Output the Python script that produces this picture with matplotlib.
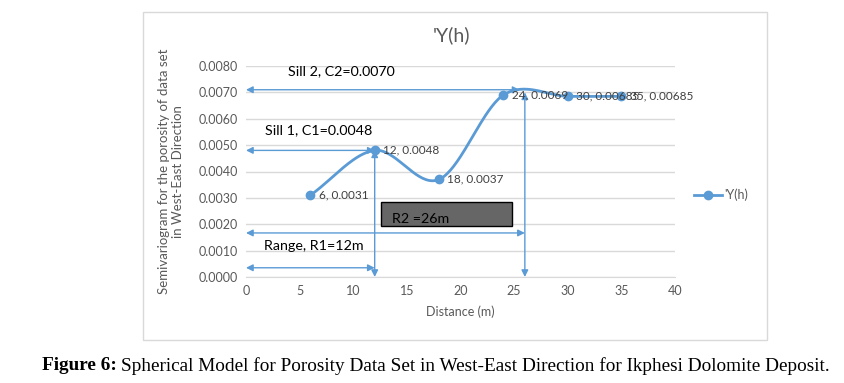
import matplotlib
matplotlib.use('Agg')
import matplotlib.pyplot as plt
import numpy as np
from matplotlib.patches import Rectangle
from matplotlib.transforms import Bbox, TransformedBbox

# data
dist = [6, 12, 18, 24, 30, 35]
gamma = [0.0031, 0.0048, 0.0037, 0.0069, 0.00685, 0.00685]
point_labels = ['6, 0.0031', '12, 0.0048', '18, 0.0037', '24, 0.0069', '30, 0.00685', '35, 0.00685']
sill1, sill2 = 0.0048, 0.0071
range1, range2 = 12, 26

blue = '#5b9bd5'
grey_txt = '#595959'
plt.rcParams['font.family'] = ['Lato', 'DejaVu Sans']

W, H = 844, 383
fig = plt.figure(figsize=(W / 100, H / 100), dpi=100)

# chart frame
fig.patches.append(Rectangle((143 / W, 1 - 340 / H), (767 - 143) / W, (340 - 12) / H,
                             transform=fig.transFigure, fill=False, edgecolor='#d9d9d9', lw=1))

ax = fig.add_axes([246 / W, 1 - 277 / H, (675 - 246) / W, (277 - 66) / H])


def smooth(x, y, n=40):
    # Catmull-Rom curve through the points, like Excel's smoothed line
    x = np.asarray(x, float); y = np.asarray(y, float)
    px = np.concatenate([[2 * x[0] - x[1]], x, [2 * x[-1] - x[-2]]])
    py = np.concatenate([[2 * y[0] - y[1]], y, [2 * y[-1] - y[-2]]])
    xs, ys = [], []
    t = np.linspace(0, 1, n)
    for i in range(1, len(px) - 2):
        for p, out in ((px, xs), (py, ys)):
            p0, p1, p2, p3 = p[i - 1], p[i], p[i + 1], p[i + 2]
            out.extend(0.5 * (2 * p1 + (-p0 + p2) * t + (2 * p0 - 5 * p1 + 4 * p2 - p3) * t ** 2
                              + (-p0 + 3 * p1 - 3 * p2 + p3) * t ** 3))
    return xs, ys


sx, sy = smooth(dist, gamma)
ax.plot(sx, sy, color=blue, lw=2, zorder=3)
ax.plot(dist, gamma, 'o', color=blue, ms=6, zorder=4)
ax.plot([], [], color=blue, lw=2, marker='o', ms=6, label="'Y(h)")

for x, y, lab in zip(dist, gamma, point_labels):
    ax.annotate(lab, (x, y), xytext=(6, 0), textcoords='offset points',
                va='center', ha='left', fontsize=8.5, color='#404040', zorder=5)

ax.set_xlim(0, 40)
ax.set_ylim(0, 0.008)
ax.set_xticks(range(0, 41, 5))
ax.set_yticks(np.arange(0, 0.0081, 0.001))
ax.set_yticklabels([f'{v:.4f}' for v in np.arange(0, 0.0081, 0.001)])
ax.grid(axis='y', color='#d9d9d9', lw=1)
ax.set_axisbelow(True)
for s in ['top', 'right', 'left']:
    ax.spines[s].set_visible(False)
ax.spines['bottom'].set_color('#d9d9d9')
ax.tick_params(length=0, labelsize=9, colors=grey_txt, pad=6)
ax.set_xlabel('Distance (m)', fontsize=9, color=grey_txt, labelpad=6)
ax.set_ylabel('Semivariogram for the porosity of data set\nin West-East Direction',
              fontsize=9.5, color=grey_txt, labelpad=10)
ax.set_title("'Y(h)", fontsize=14, color=grey_txt, pad=18, x=0.48)

# range / sill arrows
arr = dict(arrowstyle='<|-|>', color=blue, lw=1, mutation_scale=10, shrinkA=0, shrinkB=0)
ax.annotate('', xy=(0, sill2), xytext=(25.5, sill2), arrowprops=arr, annotation_clip=False)
ax.annotate('', xy=(range2, 0), xytext=(range2, 0.0070), arrowprops=arr, annotation_clip=False)
ax.annotate('', xy=(0, sill1), xytext=(range1, sill1), arrowprops=arr, annotation_clip=False)
ax.annotate('', xy=(range1, 0), xytext=(range1, sill1), arrowprops=arr, annotation_clip=False)
ax.annotate('', xy=(0, 0.00035), xytext=(range1, 0.00035), arrowprops=arr, annotation_clip=False)
ax.annotate('', xy=(0, 0.00167), xytext=(range2, 0.00167), arrowprops=arr, annotation_clip=False)

ax.text(3.9, 0.0078, 'Sill 2, C2=0.0070', fontsize=10.3, color='black', va='center')
ax.text(1.8, 0.00557, 'Sill 1, C1=0.0048', fontsize=10.3, color='black', va='center')
ax.text(1.7, 0.00117, 'Range, R1=12m', fontsize=10.3, color='black', va='center')

# dark text box, label cut off by its lower edge
bx0, by0, bx1, by1 = 12.6, 0.00193, 24.8, 0.00284
box = Rectangle((bx0, by0), bx1 - bx0, by1 - by0, facecolor='#666666',
                edgecolor='black', lw=1, zorder=4)
ax.add_patch(box)
r2 = ax.text(13.6, 0.0022, 'R2 =26m', fontsize=10.3, color='black', va='center', zorder=5)
r2.set_clip_box(TransformedBbox(Bbox([[bx0, by0], [bx1, by1]]), ax.transData))
r2.set_clip_on(True)

ax.legend(loc='center left', bbox_to_anchor=(683 / W, 1 - 195 / H), bbox_transform=fig.transFigure,
          frameon=False, fontsize=9, labelcolor=grey_txt, handlelength=2.2, handletextpad=0.2)

# caption
fig.canvas.draw()
t1 = fig.text(42 / W, 1 - 366 / H, 'Figure 6:', fontsize=13.9, fontweight='bold',
              family='Liberation Serif', va='center')
bb = t1.get_window_extent(fig.canvas.get_renderer())
fig.text(bb.x1 / W + 4 / W, 1 - 366 / H,
         'Spherical Model for Porosity Data Set in West-East Direction for Ikphesi Dolomite Deposit.',
         fontsize=13.9, family='Liberation Serif', va='center')

fig.savefig('out.png', dpi=100)
